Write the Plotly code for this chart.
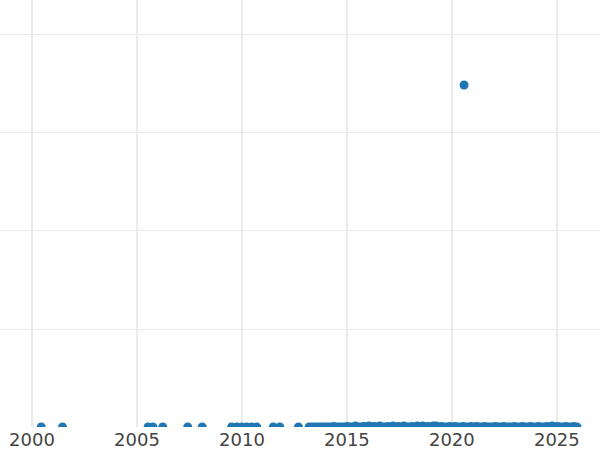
import plotly.graph_objects as go

dates = [
    "2000-06-10", "2001-06-15", "2005-07-12", "2005-10-05", "2006-03-25",
    "2007-06-02", "2008-02-10", "2009-07-05", "2009-10-01", "2009-12-28",
    "2010-03-25", "2010-06-20", "2010-09-15", "2011-07-01", "2011-10-22",
    "2012-09-10",
    "2013-03-15", "2013-05-02", "2013-06-20", "2013-08-08", "2013-09-25", "2013-11-12", "2013-12-28",
    "2014-02-10", "2014-03-30", "2014-05-18", "2014-07-02", "2014-08-20", "2014-10-06", "2014-11-25",
    "2015-01-08", "2015-02-26", "2015-04-12", "2015-05-30", "2015-07-15", "2015-09-01", "2015-10-18", "2015-12-05",
    "2016-01-20", "2016-03-06", "2016-04-22", "2016-06-08", "2016-07-25", "2016-09-10", "2016-10-27", "2016-12-12",
    "2017-01-28", "2017-03-15", "2017-05-01", "2017-06-17", "2017-08-03", "2017-09-19", "2017-11-05", "2017-12-21",
    "2018-02-06", "2018-03-24", "2018-05-10", "2018-06-26", "2018-08-12", "2018-09-28", "2018-11-14", "2018-12-30",
    "2019-02-15", "2019-04-02", "2019-05-19", "2019-07-05", "2019-08-21", "2019-10-07", "2019-11-23",
    "2020-01-09", "2020-02-25", "2020-04-12", "2020-05-28", "2020-07-14", "2020-08-01", "2020-08-30", "2020-10-16", "2020-12-02",
    "2021-01-18", "2021-03-06", "2021-04-22", "2021-06-08", "2021-07-25", "2021-09-10", "2021-10-27", "2021-12-13",
    "2022-01-29", "2022-03-17", "2022-05-03", "2022-06-19", "2022-08-05", "2022-09-21", "2022-11-07", "2022-12-24",
    "2023-02-09", "2023-03-28", "2023-05-14", "2023-06-30", "2023-08-16", "2023-10-02", "2023-11-18",
    "2024-01-04", "2024-02-20", "2024-04-07", "2024-05-24", "2024-07-10", "2024-08-26", "2024-10-12", "2024-11-28",
    "2025-01-14", "2025-03-02", "2025-04-18", "2025-06-04", "2025-07-21", "2025-09-06", "2025-10-23", "2025-12-18",
]

values = [
    0, 0, 0, 0, 0,
    0, 0, 0, 0, 0,
    0, 0, 0, 0, 0,
    0,
    0, 0, 0, 0, 0, 0, 0,
    0, 0, 5, 0, 0, 0, 0,
    5, 0, 0, 10, 0, 0, 5, 0,
    10, 0, 5, 0, 10, 0, 0, 5,
    0, 10, 0, 5, 0, 10, 0, 0,
    5, 0, 10, 0, 10, 0, 5, 0,
    10, 10, 0, 5, 0, 0, 5,
    0, 5, 0, 0, 5, 3490, 0, 0, 5,
    0, 5, 0, 0, 5, 0, 0, 0,
    5, 0, 0, 5, 0, 0, 0, 5,
    0, 0, 5, 0, 0, 5, 0,
    0, 5, 0, 0, 5, 0, 10, 0,
    5, 0, 0, 5, 0, 0, 5, 0,
]

x_range = ["1998-06-23", "2027-01-22"]
y_range = [0, 4357]
x_ticks = ["2000-01-01", "2005-01-01", "2010-01-01", "2015-01-01", "2020-01-01", "2025-01-01"]
x_tick_text = ["2000", "2005", "2010", "2015", "2020", "2025"]

fig = go.Figure(
    go.Scatter(
        x=dates,
        y=values,
        mode="markers",
        marker=dict(color="#1f77b4", size=9),
    )
)

fig.update_layout(
    width=600,
    height=450,
    margin=dict(l=0, r=0, t=0, b=23),
    paper_bgcolor="white",
    plot_bgcolor="white",
    showlegend=False,
    font=dict(family="Verdana, DejaVu Sans, sans-serif", size=18, color="#444444"),
)
fig.update_xaxes(
    type="date",
    range=x_range,
    tickvals=x_ticks,
    ticktext=x_tick_text,
    showgrid=True,
    gridcolor="#ebebeb",
    gridwidth=2,
    zeroline=False,
    showline=False,
    ticks="",
)
fig.update_yaxes(
    range=y_range,
    dtick=1000,
    showgrid=True,
    gridcolor="#ebebeb",
    gridwidth=1,
    zeroline=False,
    showticklabels=False,
    showline=False,
    ticks="",
)

fig.write_html(
    "out.html",
    config={"displayModeBar": False},
    post_script="document.body.style.margin='0';document.body.style.overflow='hidden';",
)
